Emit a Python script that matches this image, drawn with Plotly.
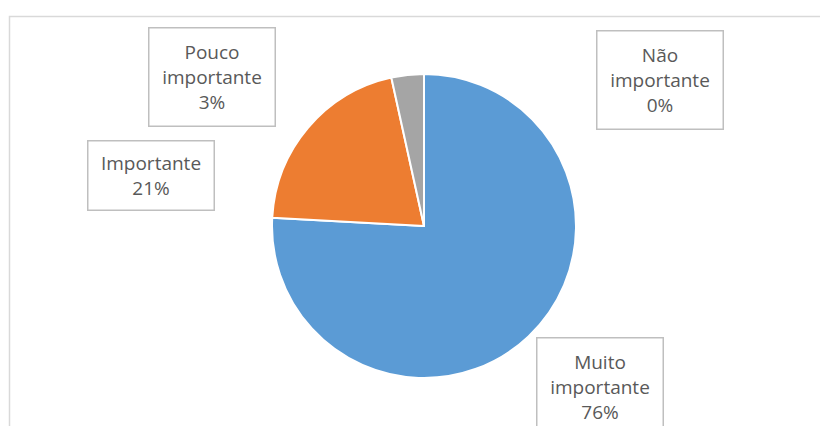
import plotly.graph_objects as go

categories = ["Muito importante", "Importante", "Pouco importante", "Não importante"]
counts = [22, 6, 1, 0]
colors = ["#5B9BD5", "#ED7D31", "#A5A5A5", "#FFC000"]
label_text = ["Muito<br>importante", "Importante", "Pouco<br>importante", "Não<br>importante"]

W, H = 828, 426
OFF = 8  # page body margin offset
total = sum(counts)
pcts = [round(v / total * 100) for v in counts]


def px(x):
    return (x - OFF) / W


def py(y):
    return 1 - (y - OFF) / H


fig = go.Figure(go.Pie(
    labels=categories,
    values=counts,
    sort=False,
    direction="clockwise",
    rotation=0,
    marker=dict(colors=colors, line=dict(color="white", width=2)),
    textinfo="none",
    hoverinfo="label+percent",
    showlegend=False,
    domain=dict(x=[px(272), px(576)], y=[py(378), py(74)]),
))

# label box centres (pixels) and heights
box_pos = [(599.5, 386.5, 91), (151, 176, 62), (211.5, 77.5, 91), (660, 80, 91)]
for txt, p, (cx, cy, h) in zip(label_text, pcts, box_pos):
    fig.add_annotation(
        x=px(cx), y=py(cy), xref="paper", yref="paper",
        text=f"{txt}<br>{p}%", showarrow=False,
        font=dict(family="Open Sans", size=19, color="#595959"),
        align="center", bgcolor="white", bordercolor="#BFBFBF",
        borderwidth=1.5, borderpad=3, width=119, height=h,
        xanchor="center", yanchor="middle",
    )

fig.add_shape(type="rect", xref="paper", yref="paper",
              x0=px(9.5), x1=1.2, y0=-0.2, y1=py(16.5),
              line=dict(color="#D9D9D9", width=1.5), layer="below")

fig.update_layout(
    width=W, height=H,
    margin=dict(l=0, r=0, t=0, b=0),
    paper_bgcolor="white", plot_bgcolor="white",
)

fig.write_html("out.html")
